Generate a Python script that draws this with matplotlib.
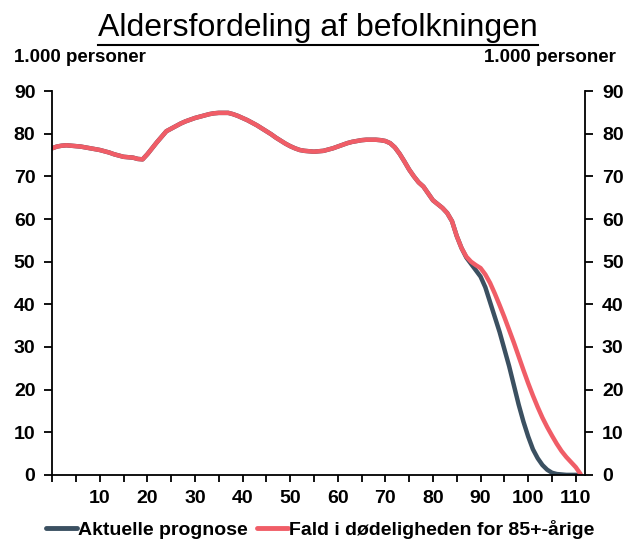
import matplotlib
matplotlib.use("Agg")
import matplotlib.pyplot as plt
from matplotlib.lines import Line2D

plt.rcParams['font.family'] = ['Liberation Sans', 'DejaVu Sans']

# alder 0..111
ages = list(range(0, 112))

# fælles forløb for begge prognoser op til 86 år (1.000 personer)
common = [
    76.6, 77.0, 77.2, 77.3, 77.2, 77.1, 77.0, 76.8, 76.6, 76.4,
    76.2, 75.9, 75.6, 75.2, 74.9, 74.6, 74.5, 74.4, 74.1, 74.0,
    75.2, 76.6, 78.0, 79.3, 80.6, 81.2, 81.8, 82.4, 82.9, 83.3,
    83.7, 84.0, 84.3, 84.6, 84.8, 84.9, 84.9, 84.9, 84.6, 84.2,
    83.7, 83.2, 82.6, 82.0, 81.3, 80.6, 79.9, 79.1, 78.4, 77.7,
    77.1, 76.6, 76.2, 76.0, 75.9, 75.8, 75.9, 76.0, 76.3, 76.6,
    77.0, 77.4, 77.8, 78.1, 78.3, 78.5, 78.6, 78.6, 78.6, 78.5,
    78.3, 77.8, 76.8, 75.3, 73.5, 71.6, 70.0, 68.6, 67.6, 66.0,
    64.4, 63.5, 62.6, 61.4, 59.5, 56.0, 53.2,
]

# 87..111
tail_aktuel = [
    51.0, 49.5, 48.0, 46.5, 44.0, 40.5, 37.0, 33.5, 29.5, 25.5,
    21.0, 16.5, 12.5, 9.0, 6.0, 3.9, 2.3, 1.2, 0.5, 0.2,
    0.1, 0.0, 0.0, 0.0, 0.0,
]
tail_fald = [
    51.2, 50.0, 49.2, 48.5, 47.0, 45.0, 42.5, 39.8, 37.0, 34.0,
    31.0, 27.8, 24.6, 21.5, 18.6, 15.9, 13.4, 11.2, 9.2, 7.3,
    5.6, 4.2, 3.0, 1.8, 0.2,
]

aktuel = common + tail_aktuel
fald = common + tail_fald

x_ticks = list(range(0, 115, 5))
x_labels = [str(t) if t % 10 == 0 and t > 0 else "" for t in x_ticks]
y_ticks = list(range(0, 100, 10))

dark = "#3b5061"
red = "#f05d67"

fig = plt.figure(figsize=(6.28, 5.49), dpi=100)
ax = fig.add_axes([0.083, 0.135, 0.849, 0.699])

ax.plot(ages, aktuel, color=dark, lw=3.2, solid_capstyle="round", label="Aktuelle prognose")
ax.plot(ages, fald, color=red, lw=3.2, solid_capstyle="round", label="Fald i dødeligheden for 85+-årige")

ax.set_xlim(0, 112)
ax.set_ylim(0, 90)
ax.set_xticks(x_ticks)
ax.set_xticklabels(x_labels)
ax.set_yticks(y_ticks)

ax.spines["top"].set_visible(False)
for s in ["left", "right", "bottom"]:
    ax.spines[s].set_linewidth(1.3)

ax.tick_params(axis="y", direction="out", length=6, width=1.3, right=True, labelright=True,
               labelsize=14, pad=6)
ax.tick_params(axis="x", direction="out", length=5, width=1.3, labelsize=14, pad=6)
for lab in ax.get_xticklabels():
    lab.set_fontweight("bold")
for t in ax.yaxis.get_major_ticks():
    t.label1.set_fontweight("bold")
    t.label2.set_fontweight("bold")

fig.text(0.022, 0.895, "1.000 personer", fontsize=13.5, fontweight="bold", ha="left", va="center")
fig.text(0.98, 0.895, "1.000 personer", fontsize=13.5, fontweight="bold", ha="right", va="center")

title = fig.text(0.506, 0.934, "Aldersfordeling af befolkningen", fontsize=23, ha="center", va="baseline")

leg = fig.legend(loc="center", bbox_to_anchor=(0.51, 0.035), ncol=2, frameon=False,
                 prop={"size": 14, "weight": "bold"}, handlelength=1.6, handletextpad=0.05,
                 columnspacing=0.5)
for line in leg.get_lines():
    line.set_linewidth(3.5)

# understregning af titlen
fig.canvas.draw()
bb = title.get_window_extent().transformed(fig.transFigure.inverted())
y_ul = 1 - 44.5 / 549
fig.add_artist(Line2D([bb.x0, bb.x1], [y_ul, y_ul], transform=fig.transFigure, color="black", lw=1.5))

fig.savefig("out.png", dpi=100)
